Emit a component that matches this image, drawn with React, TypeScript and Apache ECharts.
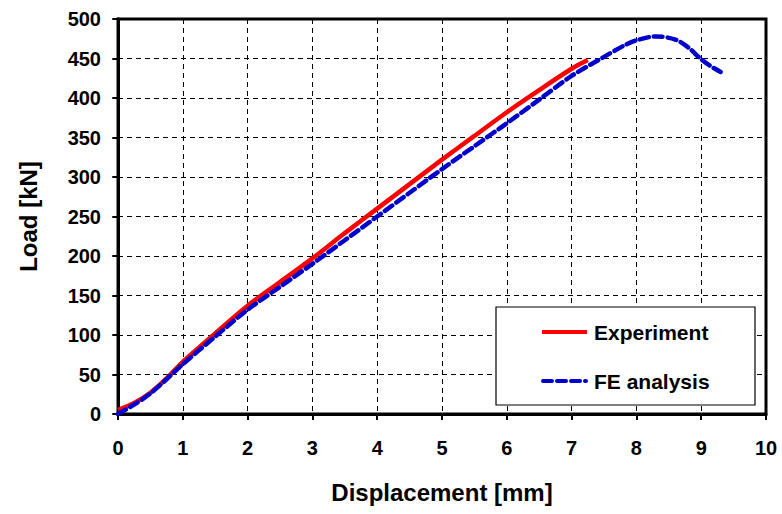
import React, { useEffect, useRef } from "react";
import * as echarts from "echarts";

const expX = [0, 0.25, 0.5, 0.75, 1, 1.5, 2, 2.5, 3, 3.5, 4, 4.5, 5, 5.5, 6, 6.5, 7, 7.25];
const expY = [5, 14, 27, 45, 66, 102, 137, 167, 197, 229, 260, 291, 322, 352, 382, 410, 437, 448];
const feX = [0, 0.25, 0.5, 0.75, 1, 1.5, 2, 2.5, 3, 3.5, 4, 4.5, 5, 5.5, 6, 6.5, 7, 7.5, 7.8, 8, 8.3, 8.6, 8.8, 9, 9.15, 9.3];
const feY = [0, 12, 26, 44, 63, 98, 132, 161, 190, 220, 250, 280, 310, 339, 368, 398, 428, 452, 466, 473, 478, 474, 464, 449, 440, 433];
const legendNames = ["Experiment", "FE analysis"];

const FONT = "'Liberation Sans', Arial, sans-serif";

export default function App() {
  const ref = useRef<HTMLDivElement>(null);
  useEffect(() => {
    const chart = echarts.init(ref.current!, null, { renderer: "svg" });
    const lbl = { fontFamily: FONT, fontWeight: "bold", fontSize: 20, color: "#000" };
    const legText = { fontFamily: FONT, fontWeight: "bold", fontSize: 21, fill: "#000" };
    chart.setOption({
      animation: false,
      backgroundColor: "#fff",
      grid: { left: 118, right: 16, top: 19, bottom: 100, show: true, borderColor: "#000", borderWidth: 3, backgroundColor: "transparent" },
      graphic: [
        { type: "rect", shape: { x: 496, y: 307, width: 259, height: 98 }, style: { fill: "#fff", stroke: "#000", lineWidth: 1.2 }, z: 5 },
        { type: "line", shape: { x1: 542, y1: 332, x2: 587, y2: 332 }, style: { stroke: "#ff0000", lineWidth: 4 }, z: 6 },
        { type: "text", x: 594, y: 332, style: { ...legText, text: legendNames[0], verticalAlign: "middle" }, z: 6 },
        { type: "line", shape: { x1: 543, y1: 381, x2: 586, y2: 381 }, style: { stroke: "#0000cc", lineWidth: 4, lineDash: [9, 5], lineCap: "round" }, z: 6 },
        { type: "text", x: 594, y: 381, style: { ...legText, text: legendNames[1], verticalAlign: "middle" }, z: 6 },
      ],
      xAxis: {
        type: "value", min: 0, max: 10, interval: 1,
        name: "Displacement [mm]", nameLocation: "middle", nameGap: 66,
        nameTextStyle: { fontFamily: FONT, fontWeight: "bold", fontSize: 24, color: "#000" },
        axisLine: { show: true, onZero: false, lineStyle: { color: "#000", width: 3 } },
        axisTick: { show: true, inside: false, length: 6, lineStyle: { color: "#000", width: 2 } },
        axisLabel: { ...lbl, margin: 24 },
        splitLine: { show: true, lineStyle: { color: "#000", type: [5, 4], width: 1 } },
      },
      yAxis: [
        {
          type: "value", min: 0, max: 500, interval: 50,
          name: "Load [kN]", nameLocation: "middle", nameGap: 78, nameRotate: 90,
          nameTextStyle: { fontFamily: FONT, fontWeight: "bold", fontSize: 24, color: "#000" },
          axisLine: { show: true, onZero: false, lineStyle: { color: "#000", width: 3 } },
          axisTick: { show: true, inside: false, length: 5, lineStyle: { color: "#000", width: 2 } },
          axisLabel: { ...lbl, margin: 17 },
          splitLine: { show: true, lineStyle: { color: "#000", type: [5, 4], width: 1 } },
        },
        {
          type: "value", min: 0, max: 500, interval: 50, position: "right",
          axisLine: { show: true, lineStyle: { color: "#000", width: 3 } },
          axisTick: { show: true, inside: true, length: 6, lineStyle: { color: "#000", width: 1.5 } },
          axisLabel: { show: false },
          splitLine: { show: false },
        },
      ],
      series: [
        {
          name: "Experiment", type: "line", showSymbol: false, symbol: "none", smooth: 0.3,
          data: expX.map((x, i) => [x, expY[i]]),
          lineStyle: { color: "#ff0000", width: 4.5 }, itemStyle: { color: "#ff0000" }, z: 3,
        },
        {
          name: "FE analysis", type: "line", showSymbol: false, symbol: "none", smooth: 0.3,
          data: feX.map((x, i) => [x, feY[i]]),
          lineStyle: { color: "#0000cc", width: 4.5, type: [9, 5], cap: "round" }, itemStyle: { color: "#0000cc" }, z: 4,
        },
      ],
    });
    return () => chart.dispose();
  }, []);
  return <div ref={ref} style={{ width: 782, height: 514, position: "absolute", left: 0, top: 0 }} />;
}
